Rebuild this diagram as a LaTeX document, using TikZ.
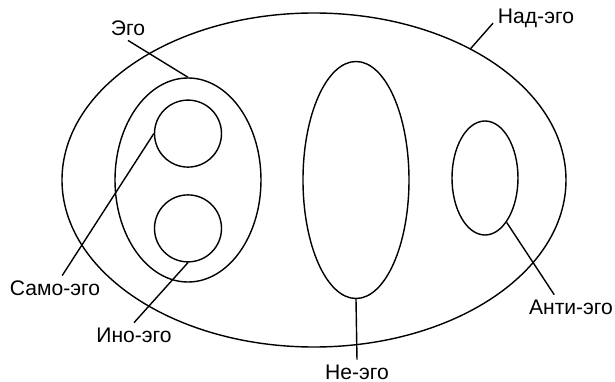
\documentclass[tikz,border=0pt]{standalone}
\usepackage{fontspec}
\setmainfont{Liberation Sans}
\usetikzlibrary{shapes.geometric}
\begin{document}
\begin{tikzpicture}
	\tikzset{
		region/.style={ellipse, draw, line width=1pt, inner sep=0pt},
		ring/.style={circle, draw, line width=1pt, inner sep=0pt, minimum size=1.675cm},
		tag/.style={font=\fontsize{15}{18}\selectfont},
		leader/.style={line width=1pt}
	}
	\useasboundingbox (-7.85,4.5) rectangle (7.525,-5.05);
	% regions
	\node[region, minimum width=12.6cm, minimum height=8.35cm] (nad) at (0,0) {};
	\node[region, minimum width=3.65cm, minimum height=5.1cm] (ego) at (-3.15,0) {};
	\node[ring] (samo) at (-3.15,1.16) {};
	\node[ring] (ino) at (-3.15,-1.21) {};
	\node[region, minimum width=2.65cm, minimum height=5.925cm] (ne) at (1.05,0) {};
	\node[region, minimum width=1.65cm, minimum height=2.85cm] (anti) at (4.275,0.05) {};
	% labels
	\node[tag] (egolbl) at (-4.65,3.8) {Эго};
	\node[tag] (nadlbl) at (5.55,4.05) {Над-эго};
	\node[tag] (samolbl) at (-6.475,-2.7) {Само-эго};
	\node[tag] (inolbl) at (-4.5,-3.875) {Ино-эго};
	\node[tag] (nelbl) at (1.075,-4.8) {Не-эго};
	\node[tag] (antilbl) at (6.425,-3.175) {Анти-эго};
	% leaders
	\draw[leader] (ego.north) -- (egolbl.south);
	\draw[leader] (nad.40) -- (nadlbl.base west);
	\draw[leader] (samo.west) -- ([xshift=0.18cm]samolbl.north);
	\draw[leader] (ino.south) -- (inolbl.north);
	\draw[leader] (ne.south) -- (nelbl.north);
	\draw[leader] (anti.-64) -- ([xshift=-0.42cm]antilbl.north);
\end{tikzpicture}
\end{document}
